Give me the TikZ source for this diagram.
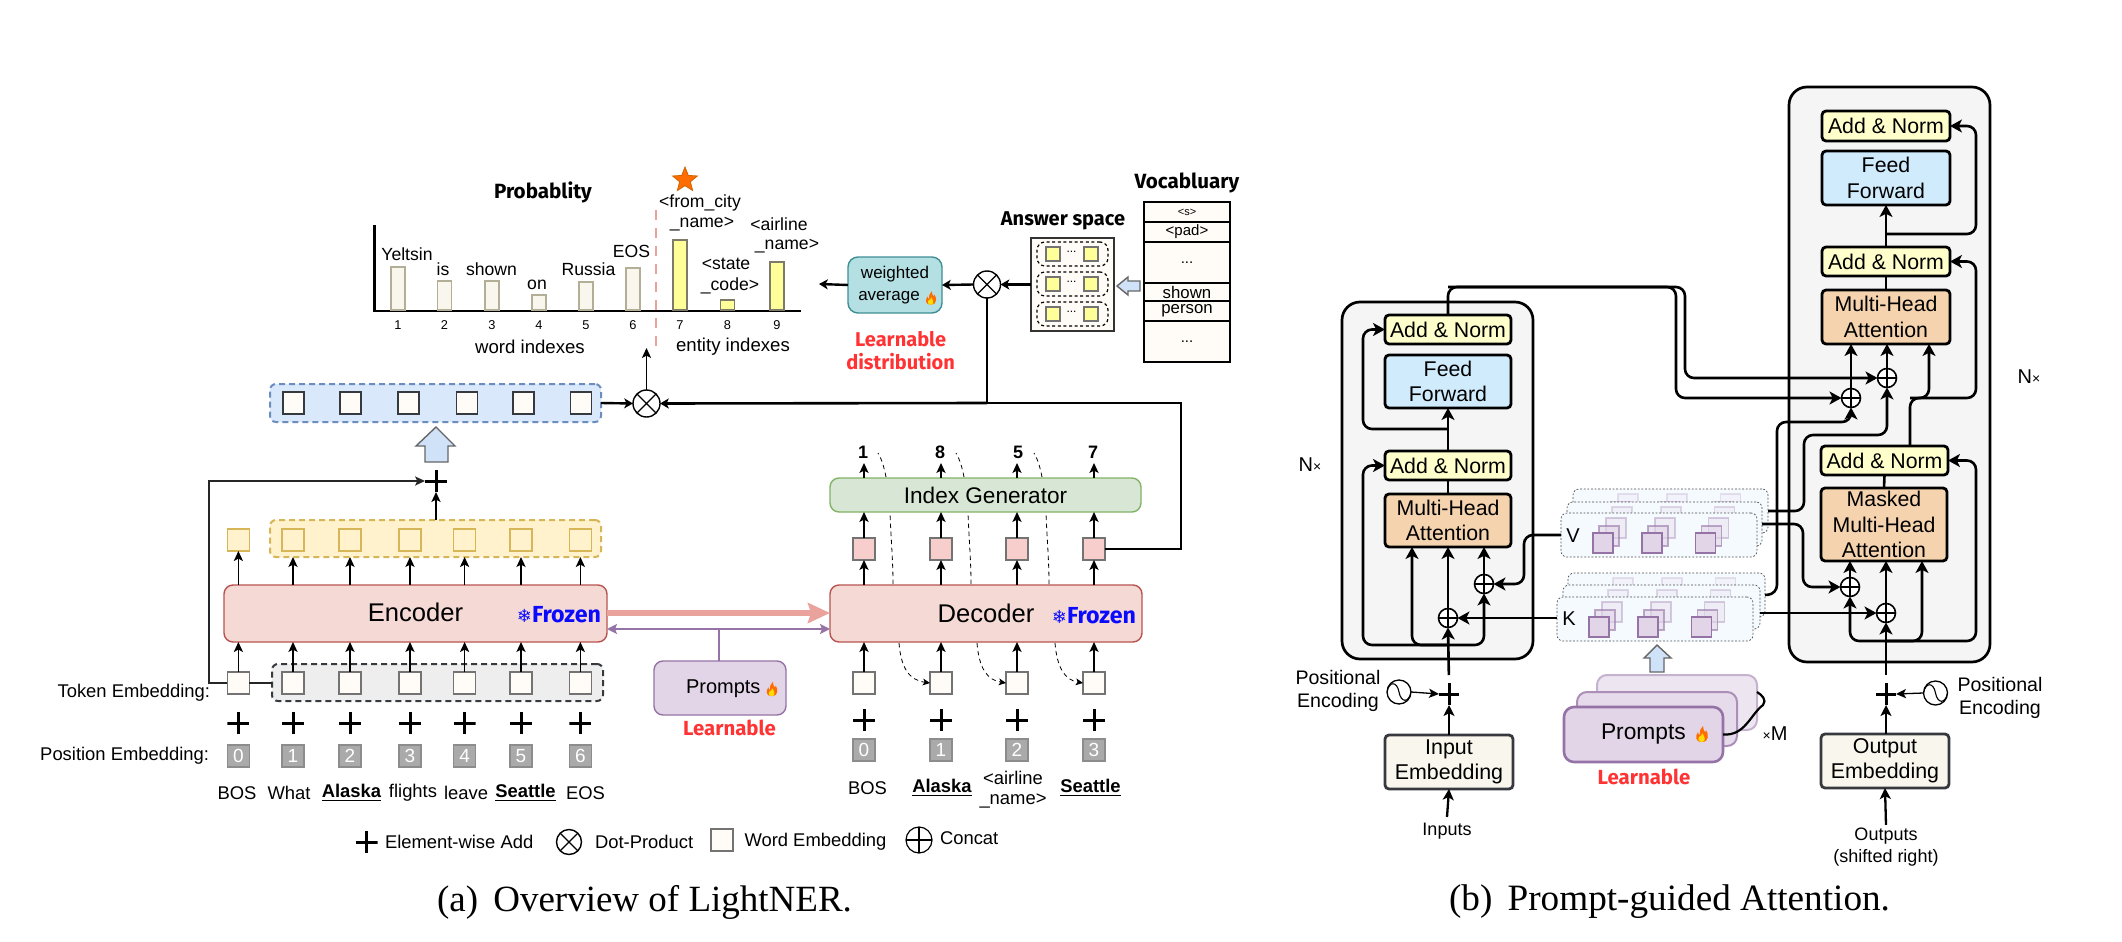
\documentclass[tikz,border=0pt]{standalone}
\usepackage{fontspec}
\setmainfont{Liberation Sans}
\newfontfamily\capfont{Liberation Serif}
\newfontfamily\handfont{Fira Sans}
\newfontfamily\symfont{DejaVu Sans}
\usetikzlibrary{arrows.meta,shapes.geometric,calc}
\newcommand{\fs}[2]{\fontsize{#1}{#2}\selectfont}
\definecolor{encF}{HTML}{F5D9D5}\definecolor{encD}{HTML}{B85450}
\definecolor{grnF}{HTML}{D8E7D5}\definecolor{grnD}{HTML}{82B366}
\definecolor{ylwF}{HTML}{FFF2CC}\definecolor{ylwD}{HTML}{D6B656}
\definecolor{gryF}{HTML}{EEEEEE}\definecolor{gryD}{HTML}{36393D}
\definecolor{bluF}{HTML}{DAE8FC}\definecolor{bluD}{HTML}{6C8EBF}
\definecolor{cream}{HTML}{FFFCF7}\definecolor{cream2}{HTML}{F9F7ED}
\definecolor{pnkF}{HTML}{F8CECC}\definecolor{purF}{HTML}{E1D5E7}\definecolor{purD}{HTML}{9673A6}
\definecolor{posF}{HTML}{AAAAAA}\definecolor{tealF}{HTML}{B4E0E4}\definecolor{tealD}{HTML}{3E8E94}
\definecolor{hand}{HTML}{FF3333}\definecolor{frz}{HTML}{0A0AFF}
\definecolor{anF}{HTML}{FFFFCC}\definecolor{ffF}{HTML}{D0ECFC}\definecolor{mhF}{HTML}{F4D3AE}
\definecolor{pinkA}{HTML}{EAA29D}\definecolor{barY}{HTML}{FFFF99}\definecolor{barD}{HTML}{B3AE96}
\definecolor{hollow}{HTML}{CFE2F8}\definecolor{layF}{HTML}{F5FAFF}
\tikzset{
 every node/.style={inner sep=0pt,outer sep=0pt},
 arr/.style={-{Stealth[length=5pt,width=4.6pt,inset=1.2pt]},line width=.65pt,black},
 darr/.style={-{Stealth[length=3.6pt,width=3.4pt,inset=.9pt]},line width=.4pt,dashed,dash pattern=on 2.2pt off 1.8pt,black},
 dline/.style={line width=.4pt,dash pattern=on 2.2pt off 1.8pt,black},
 harr/.style={-{Stealth[length=4.4pt,width=5pt,inset=1.2pt]},line width=1.2pt,black},
 rarr/.style={-{Stealth[length=6pt,width=6.5pt,inset=1.6pt]},line width=1.3pt,black,rounded corners=4.5pt},
 rline/.style={line width=1.3pt,black,rounded corners=4.5pt},
 tx/.style={font=\fs{9.2}{11}},
 hw/.style={font=\handfont\bfseries\fs{10.2}{11.5},align=center},
 tok/.style={draw=black!55,fill=cream,line width=.7pt,minimum width=11pt,minimum height=11pt},
 yq/.style={draw=ylwD,fill=ylwF,line width=.7pt,minimum width=11pt,minimum height=11pt},
 pinkq/.style={draw=black!55,fill=pnkF,line width=.7pt,minimum width=11pt,minimum height=11pt},
 bq/.style={draw=gryD,fill=cream,line width=.7pt,minimum width=10.5pt,minimum height=11pt},
 posq/.style={draw=black!45,fill=posF,text=white,line width=.7pt,minimum width=11pt,minimum height=11pt,font=\fs{9.5}{11}},
 dgrp/.style={draw=#1,dashed,dash pattern=on 3pt off 2pt,line width=1pt,rounded corners=3pt},
 codebox/.style={draw=#1,line width=.7pt,rounded corners=4.5pt,font=\fs{12.8}{15}},
 pluss/.style={minimum width=11pt,minimum height=11pt,path picture={
   \draw[line width=1.5pt,black] (path picture bounding box.north)--(path picture bounding box.south)
     (path picture bounding box.west)--(path picture bounding box.east);}},
 otimesn/.style={circle,draw=black,fill=white,line width=.7pt,minimum size=13.5pt,path picture={
   \draw[line width=.6pt] (path picture bounding box.north west)--(path picture bounding box.south east)
     (path picture bounding box.south west)--(path picture bounding box.north east);}},
 oplusn/.style={circle,draw=black,fill=white,line width=.8pt,minimum size=9.5pt,path picture={
   \draw[line width=.55pt] (path picture bounding box.north)--(path picture bounding box.south)
     (path picture bounding box.west)--(path picture bounding box.east);}},
 wave/.style={circle,draw=black,fill=white,line width=.65pt,minimum size=12pt,path picture={
   \draw[line width=.55pt] (path picture bounding box.west) .. controls +(1pt,5.5pt) and +(-1pt,5.5pt) .. (path picture bounding box.center) .. controls +(1pt,-5.5pt) and +(-1pt,-5.5pt) .. (path picture bounding box.east);}},
 bg/.style={draw=black,fill=black!4,line width=1.35pt,rounded corners=9pt},
 rb/.style={draw=black,line width=1.4pt,rounded corners=2pt,align=center,font=\fs{10.65}{12.7}},
 emb/.style={draw=gryD,fill=cream2,line width=1.4pt,rounded corners=2pt,align=center,font=\fs{10.7}{12.7}},
 lay/.style={draw=black!70,fill=layF,line width=.35pt,dash pattern=on .9pt off .9pt,rounded corners=3pt},
 psq/.style={draw=purD,fill=purF,line width=.7pt},
 hollowb/.style={draw=black!60,fill=hollow,line width=.7pt,line join=miter},
 bar/.style={draw=barD,fill=cream2,line width=.7pt},
 ybar/.style={draw=barD!70!black,fill=barY,line width=.7pt},
 lbl/.style={font=\fs{8.8}{11},align=center},
 numl/.style={font=\fs{6.4}{8}},
 vcell/.style={draw=black,fill=cream,line width=.6pt,font=\fs{8.4}{10}},
}
\newcommand{\bx}[7]{\pgfmathsetmacro{\bxW}{(#5)-(#3)}\pgfmathsetmacro{\bxH}{(#6)-(#4)}\pgfmathsetmacro{\bxX}{((#3)+(#5))/2}\pgfmathsetmacro{\bxY}{((#4)+(#6))/2}%
\node[#1,minimum width=\bxW*0.5pt,minimum height=\bxH*0.5pt] (#2) at (\bxX,\bxY) {#7};}
\newcommand{\flame}[3]{\begin{scope}[shift={(#1,#2)},scale=#3]
\fill[orange!85!red] (0,8) .. controls (-7,8) and (-7,2) .. (-4,-2) .. controls (-4,0) and (-3,1) .. (-2,1) .. controls (-3,-3) and (-1,-6) .. (1,-8) .. controls (1,-5) and (2,-3) .. (3,-2) .. controls (4,-2) and (4,-3) .. (4,-4) .. controls (7,0) and (7,8) .. (0,8) -- cycle;
\fill[yellow!80!orange] (0,8) .. controls (-5,8) and (-4,3) .. (-2,2) .. controls (-1,3) and (0,1) .. (0,-1) .. controls (2,1) and (5,8) .. (0,8) -- cycle;
\end{scope}}
\newcommand{\stacklayer}[5]{% name,left,top,width,opacity
\begin{scope}[shift={(#2,#3)}]
\node[lay,anchor=north west,minimum width=#4*0.5pt,minimum height=44*0.5pt] (#1) at (0,0) {};
\foreach \cx in {42,91,144.5}{
 \draw[psq,opacity=.35*#5] (\cx+3,5) rectangle (\cx+23,25);
 \draw[psq,opacity=.6*#5] (\cx-4,13) rectangle (\cx+16,33);
 \draw[psq,opacity=#5] (\cx-10,20) rectangle (\cx+10,40);
}
\end{scope}}
\begin{document}
\begin{tikzpicture}[x=0.5pt,y=-0.5pt]
\useasboundingbox (0,0) rectangle (2122,942);
\fill[white] (0,0) rectangle (2122,942);

%%%% (a) lower left
\bx{dgrp=ylwD,fill=ylwF}{ygrp}{270}{520}{601}{557}{}
\bx{dgrp=gryD,fill=gryF}{ggrp}{272}{664}{603}{701}{}
\bx{codebox=encD,fill=encF}{enc}{224}{585}{607}{642}{}
\node[font=\fs{12.8}{15}] (enctx) at (415.5,612) {Encoder};
\node[font=\handfont\bfseries\fs{11.6}{12},text=frz] (encfr) at (559,615) {{\symfont\fs{9}{10}❄}Frozen};
\foreach \n/\x/\w/\ws in {0/238.4/BOS/237,1/293/What/289,2/350/{\textbf{\underline{Alaska}}}/351.5,3/410/flights/413,4/464.6/leave/466,5/521/{\textbf{\underline{Seattle}}}/525.5,6/580.4/EOS/585.5}{
 \node[yq] (e\n) at (\x,540) {};
 \node[tok] (t\n) at (\x,683) {};
 \node[pluss] (pl\n) at (\x,723) {};
 \node[posq] (p\n) at (\x,756) {\n};
 \node[tx] (w\n) at (\ws,793) {\w};
 \draw[arr] (t\n.north) -- (t\n.north |- enc.south);
 \ifnum\n=0 \draw[arr] (e\n.south |- enc.north) -- (e\n.south);
 \else \draw[arr] (e\n.south |- enc.north) -- (e\n.south |- ygrp.south);\fi
}
\node[tx,anchor=east] (tlab) at (210,693) {Token Embedding:};
\node[tx,anchor=east] (plab) at (209,756) {Position Embedding:};
\node[pluss] (pltop) at (436,481) {};
\coordinate (skipc) at (209,683);
\draw[line width=.65pt,black!85] (t0.east) -- (ggrp.west |- t0.east);
\draw[-{Stealth[length=5pt,width=4.6pt,inset=1.2pt]},line width=.75pt,black!85] (t0.west) -- (skipc) |- (pltop.west);
\draw[arr] (ygrp.north -| pltop) -- (pltop.south);
\draw[hollowb] (416,446)--(436,427)--(455,446)--(448,446)--(448,462)--(425,462)--(425,446)--cycle;

%%%% blue row
\bx{dgrp=bluD,fill=bluF}{bgrp}{270}{384}{601}{422}{}
\foreach \n/\x in {0/293.6,1/350.5,2/408.6,3/467,4/523.6,5/581}{\node[bq] (b\n) at (\x,403) {};}
\node[otimesn] (ot1) at (646.5,403.5) {};
\draw[harr] (bgrp.east) -- (ot1.west);
\coordinate (wordtop) at (646.5,348);
\draw[arr] (ot1.north) -- (wordtop);

%%%% decoder
\bx{draw=purD,fill=purF,line width=.7pt,rounded corners=4.5pt}{pr}{654}{661}{786}{715}{}
\node[font=\fs{10}{12},anchor=west] (prtx) at (686,689) {Prompts};
\flame{772}{689}{.9}
\node[hw,text=hand] (lrn1) at (729.5,728) {Learnable};
\bx{codebox=encD,fill=encF}{dec}{830}{585}{1142}{642}{}
\node[font=\fs{12.8}{15}] (dectx) at (986,613) {Decoder};
\node[font=\handfont\bfseries\fs{11.6}{12},text=frz] (decfr) at (1094,616) {{\symfont\fs{9}{10}❄}Frozen};
\bx{draw=grnD,fill=grnF,line width=.7pt,rounded corners=4.5pt,font=\fs{11.3}{13}}{idx}{830}{478}{1141}{512}{Index Generator}
\draw[-{Stealth[length=11pt,width=10pt,inset=1.5pt]},line width=3pt,pinkA] (enc.east |- 0,613) -- (dec.west |- 0,613);
\draw[{Stealth[length=5pt,width=5pt,inset=1pt]}-{Stealth[length=5pt,width=5pt,inset=1pt]},line width=1.1pt,purD] (enc.east |- 0,629) -- (dec.west |- 0,629);
\draw[line width=1.1pt,purD] (pr.north -| 719,0) -- (719,629);
\foreach \n/\x/\w/\wx/\d/\dx in {0/864/BOS/867.5/1/863,1/941/{\textbf{\underline{Alaska}}}/942/8/940,2/1017/{\phantom{x}}/1013/5/1018,3/1094/{\textbf{\underline{Seattle}}}/1090.5/7/1093}{
 \node[tok] (dt\n) at (\x,683) {};
 \node[pinkq] (dp\n) at (\x,549) {};
 \node[pluss] (dpl\n) at (\x,720) {};
 \node[posq] (dq\n) at (\x,750) {\n};
 \node[tx] (dw\n) at (\wx,788) {\w};
 \node[font=\bfseries\fs{9}{11}] (dn\n) at (\dx,452) {\d};
 \draw[arr] (dt\n.north) -- (dt\n.north |- dec.south);
 \draw[arr] (dp\n.south |- dec.north) -- (dp\n.south);
 \draw[arr] (dp\n.north) -- (dp\n.north |- idx.south);
 \coordinate (dtopc\n) at (\x,463);
 \draw[arr] (dp\n.north |- idx.north) -- (dtopc\n);
}
\node[tx,align=center,font=\fs{9.2}{10.5}] (dw2b) at (1013,790) {<airline\\[-.6pt]\_name>};
% dashed feedback
\foreach \a/\b/\x in {0/1/893,1/2/971,2/3/1049}{
 \pgfmathsetmacro{\xs}{\x+6}
 \draw[darr] (\xs,643) .. controls (\xs+2,668) and (\xs+10,680) .. (dt\b.west);
 \draw[dline] (\x,584) .. controls (\x,560) and (\x-2,540) .. (\x-3,513);
 \draw[dline] (\x-7,477) .. controls (\x-9,467) and (\x-11,460) .. (\x-15,453);
}
% thick feedback line
\coordinate (fbc) at (1181,549);
\draw[line width=1.3pt,black] (dp3.east) -- (fbc) -- (1181,403) -- (987,403);
\draw[-{Stealth[length=4.4pt,width=5pt,inset=1.2pt]},line width=1.3pt,black] (987,403) -- (ot1.east);

%%%% chart
\draw[line width=1.1pt,black] (374.5,225) -- (374.5,311);
\draw[line width=1.3pt,black] (373,311) -- (800.6,311);
\foreach \n/\x/\t/\st in {1/398/267/bar,2/444.5/281/bar,3/492/281/bar,4/539/295/bar,5/586/282/bar,6/633/268/bar,7/680/240/ybar,8/727.5/300/ybar,9/777/262/ybar}{
 \bx{\st}{br\n}{\x-7}{\t}{\x+7}{310}{}
 \node[numl] (bn\n) at (\x,325) {\n};
}
\draw[line width=1pt,pinkA,dash pattern=on 5pt off 4pt] (656,210) -- (656,347);
\node[font=\fs{9.3}{11}] (wi) at (530,347) {word indexes};
\node[font=\fs{9.3}{11}] (ei) at (733,347) {entity indexes};
\foreach \n/\x/\y/\t in {l1/407/254/Yeltsin,l2/443/269/is,l3/491.5/269/shown,l4/537/285/on,l5/588.5/269/Russia,l6/631.5/251/EOS,l7/700/203/{<from\_city},l8/702/224/{\_name>},l9/779/224/{<airline},l10/787/246/{\_name>},l11/726/264/{<state},l12/730/286/{\_code>}}{
 \node[lbl] (\n) at (\x,\y) {\t};
}
\node[star,star points=5,star point ratio=2.3,fill=orange!85!red,draw=orange!80!black,line width=.4pt,minimum size=13pt] (stardeco) at (685,180) {};
\node[hw,font=\handfont\bfseries\fs{10.3}{11}] (probt) at (543,192) {Probablity};
\node[hw,font=\handfont\bfseries\fs{10}{11}] (anst) at (1063,221) {Answer space};
\node[hw,font=\handfont\bfseries\fs{10.3}{11}] (vocabt) at (1187,183) {Vocabluary};

%%%% top right of (a)
\bx{draw=tealD,fill=tealF,line width=.7pt,rounded corners=5pt,align=center,font=\fs{8.5}{10.8}}{wavg}{848}{257}{942}{313}{weighted\\\hspace*{-6pt}average}
\flame{931}{298}{.85}
\node[hw,text=hand,font=\handfont\bfseries\fs{10}{11.5}] (lrn2) at (900.6,350.5) {Learnable\\distribution};
\node[otimesn] (ot2) at (987,284.5) {};
\coordinate (probend) at (819,284);
\draw[harr] (wavg.west) -- (probend);
\draw[harr] (ot2.west) -- (wavg.east);
\draw[line width=1.1pt,black] (ot2.south) -- (987,403);
\bx{draw=black!80,fill=cream,line width=.8pt}{ans}{1031}{238}{1114}{331}{}
\draw[harr] (ans.west |- ot2.east) -- (ot2.east);
\foreach \n/\y in {1/254,2/284,3/314}{
 \bx{draw=black,dash pattern=on 1.5pt off 1.3pt,line width=.6pt,rounded corners=4pt}{ag\n}{1037}{\y-12}{1108}{\y+12}{}
 \bx{draw=black!55,fill=barY,line width=.7pt}{ay\n}{1046}{\y-7}{1060}{\y+7}{}
 \bx{draw=black!55,fill=barY,line width=.7pt}{az\n}{1084}{\y-7}{1098}{\y+7}{}
 \node[font=\fs{6}{7}] (ad\n) at (1071.5,\y-2) {...};
}
\draw[hollowb] (1117,286)--(1128,277)--(1128,281)--(1140,281)--(1140,291)--(1128,291)--(1128,295)--cycle;
\bx{vcell,font=\fs{5.5}{7}}{v1}{1144}{202}{1230}{222}{<s>}
\bx{vcell,font=\fs{7.5}{9}}{v2}{1144}{222}{1230}{242}{<pad>}
\bx{vcell,font=\fs{7.5}{9}}{v3}{1144}{242}{1230}{283}{...}
\bx{vcell}{v4}{1144}{283}{1230}{301}{shown}
\bx{vcell}{v5}{1144}{301}{1230}{321}{person}
\bx{vcell,font=\fs{7.5}{9}}{v6}{1144}{321}{1230}{362}{...}

%%%% legend
\node[pluss] (lgp) at (366.5,842) {};
\node[font=\fs{9.2}{11},anchor=west] (lg1) at (385,842) {Element-wise Add};
\node[otimesn,minimum size=12.5pt] (lgo) at (569,842) {};
\node[font=\fs{9.2}{11},anchor=west] (lg2) at (595,842) {Dot-Product};
\node[tok] (lgs) at (722,840) {};
\node[font=\fs{9.2}{11},anchor=west] (lg3) at (744.5,842) {Word Embedding};
\node[oplusn,minimum size=13pt,line width=.6pt] (lgc) at (919,840) {};
\node[font=\fs{9.2}{11},anchor=west] (lg4) at (940,838) {Concat};

\node[font=\capfont\fs{18.5}{20},anchor=west] (cap1) at (437,902) {(a)\hspace{3pt} Overview of LightNER.};
\node[font=\capfont\fs{18.6}{20},anchor=west] (cap2) at (1449,902) {(b)\hspace{3pt} Prompt-guided Attention.};

%%%% (b) boxes
\bx{bg}{gL}{1342}{302}{1533}{659}{}
\bx{bg}{gR}{1789}{87}{1990}{662}{}
\bx{rb,fill=anF}{an1}{1385}{315}{1511}{344}{Add \& Norm}
\bx{rb,fill=ffF}{ff1}{1385}{355}{1511}{408}{Feed\\Forward}
\bx{rb,fill=anF}{an2}{1385}{451}{1511}{480}{Add \& Norm}
\bx{rb,fill=mhF}{mh1}{1385}{494}{1511}{547}{Multi-Head\\Attention}
\bx{rb,fill=anF}{anT}{1822}{111}{1950}{141}{Add \& Norm}
\bx{rb,fill=ffF}{ffT}{1822}{151}{1950}{205}{Feed\\Forward}
\bx{rb,fill=anF}{anM}{1822}{247}{1950}{276}{Add \& Norm}
\bx{rb,fill=mhF}{mhT}{1822}{290}{1950}{344}{Multi-Head\\Attention}
\bx{rb,fill=anF}{anB}{1821}{446}{1948}{475}{Add \& Norm}
\bx{rb,fill=mhF}{msk}{1821}{488}{1947}{561}{Masked\\Multi-Head\\Attention}
\node[font=\fs{10}{12}] (nl) at (1310,465) {N{\fs{7}{7}×}};
\node[font=\fs{10}{12}] (nr) at (2029,377) {N{\fs{7}{7}×}};

% stacks
\stacklayer{vb}{1573}{489}{195}{.55}
\stacklayer{vm}{1567}{502}{195}{.75}
\stacklayer{vf}{1561}{513}{196}{1}
\stacklayer{kb}{1568}{573}{197}{.55}
\stacklayer{km}{1563}{585}{197}{.75}
\stacklayer{kf}{1557}{597}{196}{1}
\node[font=\fs{10}{12}] (vl) at (1573,536) {V};
\node[font=\fs{10}{12}] (kl) at (1569,619) {K};

% prompts stack
\draw[hollowb] (1644,658)--(1657,645)--(1671,658)--(1664,658)--(1664,672)--(1650,672)--(1650,658)--cycle;
\bx{draw=purD!55,fill=purF!60,line width=1pt,rounded corners=5pt}{pb}{1597}{675}{1757}{730}{}
\bx{draw=purD!80,fill=purF!85,line width=1pt,rounded corners=5pt}{pm}{1577}{692}{1737}{746}{}
\bx{draw=purD,fill=purF,line width=1.3pt,rounded corners=5pt}{pf}{1564}{707}{1723}{762}{}
\node[font=\fs{11.4}{13},anchor=west] (pftx) at (1601,734) {Prompts};
\flame{1702}{734}{1}
\draw[line width=1.1pt,black] (pf.east) .. controls (1745,736) and (1750,715) .. (1763,705) .. controls (1767,700) and (1762,695) .. (pb.east |- 0,692);
\node[font=\fs{10}{12}] (xm) at (1775,734) {{\fs{7}{7}×}M};
\node[hw,text=hand] (lrn3) at (1644,777) {Learnable};

% bottom embeddings
\bx{emb}{ie}{1385}{735}{1513}{789}{Input\\Embedding}
\bx{emb}{oe}{1821}{734}{1949}{788}{Output\\Embedding}
\node[pluss,minimum width=10pt] (pll) at (1449,694) {};
\node[pluss,minimum width=10pt] (plr) at (1886,694) {};
\node[wave] (wl) at (1399,692) {};
\node[wave] (wr) at (1935.5,693) {};
\node[font=\fs{9.8}{11.6},align=center] (pel) at (1338,691) {Positional\\Encoding};
\node[font=\fs{9.8}{11.6},align=center] (per) at (2000,698) {Positional\\Encoding};
\node[font=\fs{9}{11}] (inp) at (1447,831) {Inputs};
\node[font=\fs{9}{11},align=center] (outp) at (1886,847) {Outputs\\(shifted right)};
\draw[arr] (wl.east) -- (pll.west);
\draw[arr] (wr.west) -- (plr.east);
\tikzset{bot/.style={-{Stealth[length=5.5pt,width=5.5pt,inset=1.4pt]},line width=1.15pt,black}}
\draw[bot] (ie.north -| pll) -- (pll.south);
\draw[bot] (oe.north -| plr) -- (plr.south);
\draw[bot] (inp.north) ++(0,-6) -- (ie.south);
\draw[bot] (outp.north) ++(0,-3) -- (oe.south);

% left stack connectors
\node[oplusn] (cL1) at (1448,618) {};
\node[oplusn] (cL2) at (1484,584) {};
\draw[rline] (mh1.north) -- (an2.south);
\draw[rarr] (an2.north) -- (ff1.south);
\coordinate (ls1) at (1448,429);
\coordinate (ls2) at (1363,429);
\draw[rarr] (ls1) -- (ls2) -- (ls2 |- an1.west) -- (an1.west);
\coordinate (lb1) at (1448,645);
\coordinate (lb2) at (1363,645);
\coordinate (lb3) at (1484,645);
\coordinate (lb4) at (1412,645);
\draw[rarr,shorten <=4pt] (pll.north) -- (cL1.south);
\draw[rarr] (lb1) -- (lb2) -- (lb2 |- an2.west) -- (an2.west);
\draw[rarr] (lb1) -- (lb3) -- (cL2.south);
\draw[rarr] (lb1) -- (lb4) -- (lb4 |- mh1.south);
\draw[rarr] (cL1.north) -- (cL1.north |- mh1.south);
\draw[rarr] (cL2.north) -- (cL2.north |- mh1.south);
\coordinate (vt1) at (1524,535);
\coordinate (vt2) at (1524,584);
\draw[rarr] (vf.west) -- (vt1) -- (vt2) -- (cL2.east);
\draw[rarr] (kf.west |- cL1.east) -- (cL1.east);

% right stack connectors
\node[oplusn] (cR1) at (1851,398) {};
\node[oplusn] (cR2) at (1887,378) {};
\node[oplusn] (cR3) at (1850,587) {};
\node[oplusn] (cR4) at (1886,613) {};
\coordinate (tp) at (1448,287);
\coordinate (tp1) at (1676,287);
\coordinate (tp2) at (1685,287);
\draw[rarr] (an1.north) -- (tp) -- (tp1) -- (tp1 |- cR1.west) -- (cR1.west);
\draw[rarr] (tp) -- (tp2) -- (tp2 |- cR2.west) -- (cR2.west);
\draw[rline] (mhT.north) -- (anM.south);
\draw[rarr] (anM.north) -- (ffT.south);
\coordinate (rs1) at (1886,234);
\coordinate (rs2) at (1976,234);
\draw[rarr] (rs1) -- (rs2) -- (rs2 |- anT.east) -- (anT.east);
\draw[rline] (msk.north) -- (anB.south);
\coordinate (am1) at (1910,446);
\coordinate (am2) at (1910,398);
\coordinate (am3) at (1976,398);
\coordinate (am4) at (1929,398);
\draw[rarr] (am1) -- (am2) -- (am3) -- (am3 |- anM.east) -- (anM.east);
\draw[rarr] (am2) -- (am4) -- (am4 |- mhT.south);
\draw[rarr] (cR1.north) -- (cR1.north |- mhT.south);
\draw[rarr] (cR2.north) -- (cR2.north |- mhT.south);
\coordinate (k1) at (1777,594);
\coordinate (k2) at (1777,422);
\draw[rarr] (kb.east) -- (k1) -- (k2) -- (k2 -| cR1.south) -- (cR1.south);
\coordinate (v1c) at (1804,511);
\coordinate (v2c) at (1804,435);
\draw[rarr] (vb.east) -- (v1c) -- (v2c) -- (v2c -| cR2.south) -- (cR2.south);
\coordinate (v3c) at (1803,524);
\coordinate (v4c) at (1803,587);
\draw[rarr] (vm.east) -- (v3c) -- (v4c) -- (cR3.west);
\draw[rarr] (km.east |- cR4.west) -- (cR4.west);
\draw[rarr,shorten <=4pt] (plr.north) -- (cR4.south);
\draw[rarr] (cR3.north) -- (cR3.north |- msk.south);
\draw[rarr] (cR4.north) -- (cR4.north |- msk.south);
\coordinate (rb1) at (1886,641);
\coordinate (rb2) at (1850,641);
\coordinate (rb3) at (1976,641);
\coordinate (rb4) at (1922,641);
\draw[rarr] (rb1) -- (rb2) -- (cR3.south);
\draw[rarr] (rb1) -- (rb3) -- (rb3 |- anB.east) -- (anB.east);
\draw[rarr] (rb1) -- (rb4) -- (rb4 |- msk.south);
\end{tikzpicture}
\end{document}
